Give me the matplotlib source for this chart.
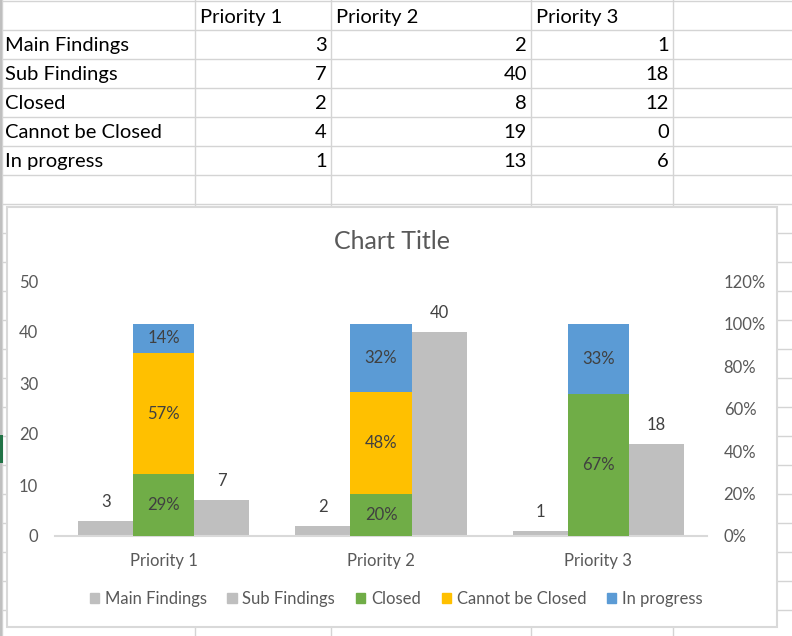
import matplotlib
matplotlib.use("Agg")
import matplotlib.pyplot as plt
from matplotlib.patches import Rectangle, Patch
from matplotlib.lines import Line2D
import numpy as np

# ---------------- data ----------------
categories = ["Priority 1", "Priority 2", "Priority 3"]
row_names = ["Main Findings", "Sub Findings", "Closed", "Cannot be Closed", "In progress"]
main_findings = [3, 2, 1]
sub_findings = [7, 40, 18]
closed = [2, 8, 12]
cannot_closed = [4, 19, 0]
in_progress = [1, 13, 6]
closed_pct = [29, 20, 67]
cannot_pct = [57, 48, 0]
progress_pct = [14, 32, 33]
left_ticks = [0, 10, 20, 30, 40, 50]
right_ticks = [0, 20, 40, 60, 80, 100, 120]

W, H = 792, 636
plt.rcParams['font.family'] = ['Lato', 'DejaVu Sans']
fig = plt.figure(figsize=(W / 100, H / 100), dpi=100)
fig.patch.set_facecolor("white")

def fx(x):
    return x / W

def fy(y):
    return 1 - y / H

GRID = "#d4d4d4"
# spreadsheet grid
col_lines = [2, 195, 331, 531, 673]
for xl in col_lines:
    fig.add_artist(Line2D([fx(xl), fx(xl)], [0, 1], transform=fig.transFigure,
                          color=GRID, lw=1, zorder=-3))
for yl in np.arange(0.5, H, 29):
    fig.add_artist(Line2D([0, 1], [fy(yl), fy(yl)], transform=fig.transFigure,
                          color=GRID, lw=1, zorder=-3))
fig.add_artist(Line2D([fx(1), fx(1)], [0, 1], transform=fig.transFigure,
                      color="#bfbfbf", lw=1.5, zorder=-3))
fig.add_artist(Rectangle((0, fy(463)), fx(2.5), (463 - 435) / H, transform=fig.transFigure,
                         facecolor="#217346", edgecolor="none", zorder=-2))

# table text
table = [main_findings, sub_findings, closed, cannot_closed, in_progress]
col_left = [195, 331, 531]
col_right = [331, 531, 673]
TFS = 14.5
for j, c in enumerate(categories):
    fig.text(fx(col_left[j] + 5), fy(17.5), c, fontsize=TFS, va="center", ha="left", color="black")
for i, name in enumerate(row_names):
    yc = 29 * (i + 1) + 16.5
    fig.text(fx(5), fy(yc), name, fontsize=TFS, va="center", ha="left", color="black")
    for j in range(3):
        fig.text(fx(col_right[j] - 4), fy(yc), str(table[i][j]), fontsize=TFS,
                 va="center", ha="right", color="black")

# chart area
fig.add_artist(Rectangle((fx(7), fy(627)), (777 - 7) / W, (627 - 207) / H,
                         transform=fig.transFigure, facecolor="white",
                         edgecolor="#d9d9d9", lw=1.5, zorder=-1))

TXT = "#595959"
LBL = "#404040"
FS = 12

ax = fig.add_axes([fx(55), fy(536), (707 - 55) / W, (536 - 281) / H])
ax.patch.set_visible(False)
ax2 = ax.twinx()
ax2.patch.set_visible(False)

x = np.arange(len(categories))
off = 0.267
wg = 0.253
ws = 0.281
gray = "#bfbfbf"
b1 = ax.bar(x - off, main_findings, wg, color=gray, label="Main Findings")
b2 = ax.bar(x + off, sub_findings, wg, color=gray, label="Sub Findings")
for bars, vals in ((b1, main_findings), (b2, sub_findings)):
    for r, v in zip(bars, vals):
        ax.annotate(str(v), (r.get_x() + r.get_width() / 2, v), xytext=(0, 13.7),
                    textcoords="offset points", ha="center", va="center",
                    fontsize=FS, color=LBL)

ax.set_xlim(-0.5, 2.5)
ax.set_ylim(0, 50)
ax.set_yticks(left_ticks)
ax.set_xticks(x)
ax.set_xticklabels(categories)
ax.tick_params(axis="both", length=0, colors=TXT, labelsize=FS)
ax.tick_params(axis="y", pad=12)
ax.tick_params(axis="x", pad=12)
for s in ("top", "left", "right"):
    ax.spines[s].set_visible(False)
ax.spines["bottom"].set_color("#d9d9d9")
ax.spines["bottom"].set_linewidth(1.5)

bottom = np.zeros(3)
series = [(closed_pct, "#70ad47", "Closed"),
          (cannot_pct, "#ffc000", "Cannot be Closed"),
          (progress_pct, "#5b9bd5", "In progress")]
for vals, col, lab in series:
    bars = ax2.bar(x, vals, ws, bottom=bottom, color=col, label=lab)
    for r, v, b in zip(bars, vals, bottom):
        if v > 0:
            ax2.text(r.get_x() + r.get_width() / 2, b + v / 2, f"{v}%", ha="center",
                     va="center", fontsize=FS, color=LBL)
    bottom = bottom + np.array(vals)

ax2.set_ylim(0, 120)
ax2.set_yticks(right_ticks)
ax2.set_yticklabels([f"{t}%" for t in right_ticks])
ax2.tick_params(axis="y", length=0, colors=TXT, labelsize=FS, pad=12)
for s in ("top", "left", "right", "bottom"):
    ax2.spines[s].set_visible(False)
for t in ax2.get_yticklabels():
    t.set_ha("left")

fig.text(fx(392), fy(241), "Chart Title", fontsize=18, color=TXT, ha="center", va="center")

handles = [Patch(color=gray), Patch(color=gray), Patch(color="#70ad47"),
           Patch(color="#ffc000"), Patch(color="#5b9bd5")]
labels = ["Main Findings", "Sub Findings", "Closed", "Cannot be Closed", "In progress"]
leg = fig.legend(handles, labels, loc="center", bbox_to_anchor=(fx(396), fy(599)),
                 ncol=5, frameon=False, fontsize=FS, handlelength=0.55, handleheight=0.55,
                 handletextpad=0.35, columnspacing=1.25)
for t in leg.get_texts():
    t.set_color(TXT)

fig.savefig("out.png", dpi=100, facecolor="white")
